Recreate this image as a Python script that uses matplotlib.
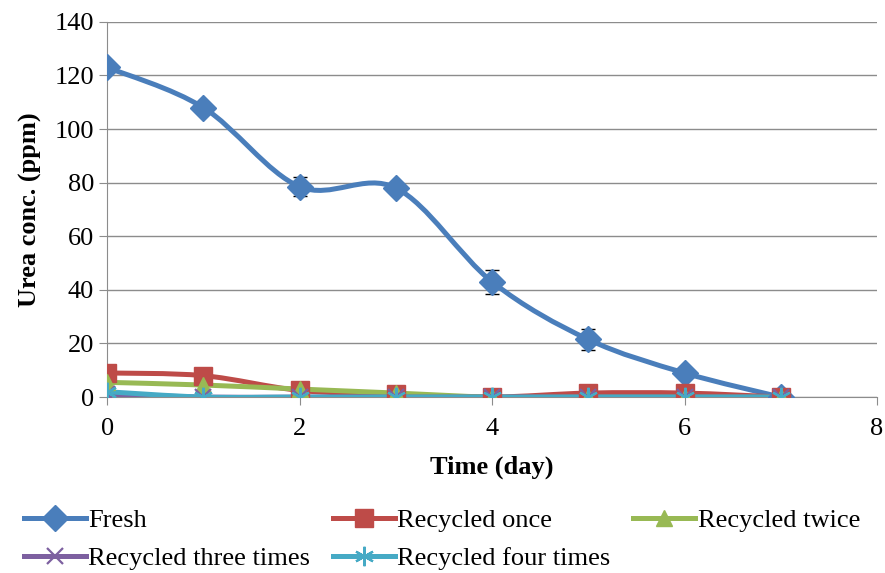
import numpy as np
import matplotlib
matplotlib.use("Agg")
import matplotlib.pyplot as plt
from matplotlib.path import Path
from matplotlib.patches import PathPatch
from matplotlib.lines import Line2D

plt.rcParams['font.family'] = ['Liberation Serif', 'DejaVu Serif']

days = [0, 1, 2, 3, 4, 5, 6, 7]
fresh = [123, 108, 78.5, 78, 43, 21.5, 9, 0]
fresh_err = [0.5, 0.5, 3.5, 1, 4.5, 3.8, 1, 0]
once = [9, 8, 2.5, 1, 0, 1.5, 1.5, 0]
twice = [5.5, 4.5, 3, 1.5, 0, 0, 0, 0]
three = [1, 0, 0, 0, 0, 0, 0, 0]
four = [2, 0, 0, 0, 0, 0, 0, 0]

names = ["Fresh", "Recycled once", "Recycled twice",
         "Recycled three times", "Recycled four times"]
colors = ["#4A7EBB", "#BE4B48", "#98B954", "#7D60A0", "#46AAC5"]
markers = ["D", "s", "^", "x", (6, 2, 0)]
msizes = [13, 13, 12, 12, 14]


def smooth_path(x, y):
    # Excel style smoothed line as cubic bezier segments
    x = np.asarray(x, float)
    y = np.asarray(y, float)
    verts = [(x[0], y[0])]
    codes = [Path.MOVETO]
    n = len(x)
    for i in range(n - 1):
        i0 = max(i - 1, 0)
        i3 = min(i + 2, n - 1)
        c1 = (x[i] + (x[i + 1] - x[i0]) / 6, y[i] + (y[i + 1] - y[i0]) / 6)
        c2 = (x[i + 1] - (x[i3] - x[i]) / 6, y[i + 1] - (y[i3] - y[i]) / 6)
        verts += [c1, c2, (x[i + 1], y[i + 1])]
        codes += [Path.CURVE4] * 3
    return Path(verts, codes)


fig = plt.figure(figsize=(8.85, 5.73), dpi=100)
ax = fig.add_axes([0.121, 0.307, 0.870, 0.655])

ax.errorbar(days, fresh, yerr=fresh_err, fmt='none', ecolor='black',
            elinewidth=1, capsize=5, zorder=2.9)

series = [fresh, once, twice, three, four]
handles = []
for k in range(len(series) - 1, -1, -1):
    ys = series[k]
    patch = PathPatch(smooth_path(days, ys), facecolor='none',
                      edgecolor=colors[k], lw=3.6, zorder=3 + k * 0.1,
                      capstyle='round', joinstyle='round')
    ax.add_patch(patch)
    mew = 1.6 if markers[k] in ("x", (6, 2, 0)) else 1
    ax.plot(days, ys, linestyle='none', marker=markers[k], ms=msizes[k],
            color=colors[k], mew=mew, zorder=3.5 + k * 0.1)

for k in range(len(series)):
    mew = 1.6 if markers[k] in ("x", (6, 2, 0)) else 1
    handles.append(Line2D([], [], color=colors[k], lw=3.6, marker=markers[k],
                          ms=msizes[k], mew=mew))

ax.set_xlim(0, 8)
ax.set_ylim(0, 140)
ax.set_yticks(np.arange(0, 141, 20))
ax.set_xticks(np.arange(0, 9, 2))
ax.yaxis.grid(True, color='#8C8C8C', lw=1)
ax.set_axisbelow(True)
for s in ['top', 'right']:
    ax.spines[s].set_visible(False)
ax.spines['left'].set_color('#8C8C8C')
ax.spines['bottom'].set_color('#8C8C8C')
ax.tick_params(axis='both', labelsize=19, color='#8C8C8C', length=6)
ax.tick_params(axis='x', pad=9)
ax.set_xlabel("Time (day)", fontsize=19, fontweight='bold', labelpad=11)
ax.set_ylabel("Urea conc. (ppm)", fontsize=19, fontweight='bold', labelpad=9)

order = [0, 3, 1, 4, 2]
fig.legend([handles[i] for i in order], [names[i] for i in order],
           loc='lower left', bbox_to_anchor=(0.0, -0.036), ncol=3,
           frameon=False, fontsize=19, handlelength=2.35, handletextpad=0.1,
           columnspacing=0.85, labelspacing=0.55)

fig.savefig("out.png", dpi=100)
